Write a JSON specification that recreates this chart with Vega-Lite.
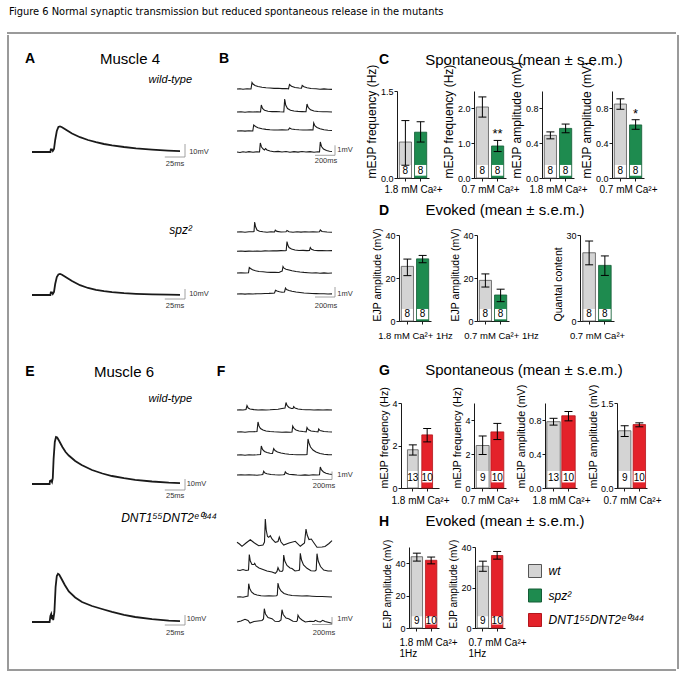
{
"$schema": "https://vega.github.io/schema/vega-lite/v6.json",
"background": "white",
"padding": {"left": 7, "top": 6, "right": 4, "bottom": 4},
"title": {"text": "Figure 6  Normal synaptic transmission but reduced spontaneous release in the mutants", "anchor": "start", "fontSize": 11, "fontWeight": "normal", "font": "Liberation Sans Narrow, DejaVu Sans Condensed, Liberation Sans", "offset": 15, "dx": 2, "color": "#000"},
"config": {
 "view": {"stroke": null},
 "font": "Liberation Sans",
 "concat": {"spacing": 0},
 "axis": {"grid": false, "domainColor": "#000", "domainWidth": 0.9, "tickColor": "#000", "tickWidth": 0.9, "tickSize": 3, "labelColor": "#000", "labelFontSize": 9, "labelPadding": 1, "titleColor": "#000", "titleFontSize": 11.5, "titleFontWeight": "normal", "titlePadding": 2},
 "axisX": {"titleFontSize": 10},
 "axisY": {"titleAnchor": "start", "titleAlign": "left"},
 "text": {"color": "#000"},
 "title": {"color": "#000", "fontWeight": "normal"}
},
"datasets": {
 "awt": [{"t":0,"v":0},{"t":23,"v":0},{"t":23.5,"v":2.5},{"t":25,"v":2.5},{"t":26,"v":1},{"t":27.5,"v":3},{"t":29,"v":12},{"t":31,"v":21},{"t":33,"v":25},{"t":35,"v":25.5},{"t":37,"v":25},{"t":40,"v":23.5},{"t":45,"v":21},{"t":50,"v":18.5},{"t":60,"v":14.8},{"t":70,"v":12},{"t":80,"v":9.8},{"t":90,"v":8},{"t":100,"v":6.6},{"t":115,"v":5},{"t":130,"v":3.7},{"t":150,"v":2.4},{"t":170,"v":1.4},{"t":185,"v":0.9}],
 "aspz": [{"t":0,"v":0},{"t":23,"v":0},{"t":23.5,"v":2.5},{"t":25,"v":2.5},{"t":26,"v":1},{"t":27.5,"v":3},{"t":29,"v":11},{"t":31,"v":18},{"t":33,"v":20.5},{"t":35,"v":21},{"t":37,"v":20.5},{"t":40,"v":19},{"t":45,"v":16.5},{"t":50,"v":14},{"t":60,"v":9.8},{"t":70,"v":7},{"t":80,"v":5.2},{"t":90,"v":3.9},{"t":100,"v":2.9},{"t":115,"v":1.9},{"t":130,"v":1.2},{"t":150,"v":0.6},{"t":170,"v":0.3},{"t":185,"v":0.2}],
 "ewt": [{"t":0,"v":0},{"t":22,"v":0},{"t":22.5,"v":3},{"t":24,"v":3.5},{"t":25,"v":2},{"t":26,"v":6},{"t":27,"v":25},{"t":28.5,"v":42},{"t":30,"v":47},{"t":31.5,"v":46.5},{"t":34,"v":43},{"t":38,"v":37},{"t":42,"v":32},{"t":46,"v":28.5},{"t":54,"v":23},{"t":62,"v":19},{"t":75,"v":14},{"t":88,"v":10.5},{"t":100,"v":8},{"t":115,"v":5.8},{"t":129,"v":4.2},{"t":150,"v":2.5},{"t":171,"v":1.3},{"t":185,"v":0.9}],
 "emut": [{"t":0,"v":0},{"t":22,"v":0},{"t":23,"v":6},{"t":24,"v":8},{"t":25,"v":3},{"t":25.5,"v":7},{"t":26.5,"v":2},{"t":28,"v":10},{"t":29.5,"v":35},{"t":31,"v":46},{"t":32.5,"v":48.3},{"t":34,"v":47.5},{"t":37,"v":43},{"t":41,"v":37},{"t":46,"v":30.5},{"t":54,"v":24.5},{"t":62.5,"v":20},{"t":75,"v":16},{"t":87.5,"v":13},{"t":100,"v":10.2},{"t":115,"v":7.2},{"t":129,"v":5},{"t":150,"v":2.8},{"t":171,"v":1.3},{"t":185,"v":0.8}],
 "bw1": [{"t":0,"v":0},{"t":30,"v":0.02},{"t":60,"v":-0.02},{"t":100,"v":0.03},{"t":140,"v":0},{"t":150,"v":0.65},{"t":160,"v":0.5},{"t":180,"v":0.35},{"t":210,"v":0.25},{"t":250,"v":0.18},{"t":290,"v":0.12},{"t":330,"v":0.1},{"t":370,"v":0.06},{"t":410,"v":0.08},{"t":450,"v":0.04},{"t":490,"v":0.05},{"t":515,"v":0.02},{"t":525,"v":0.45},{"t":545,"v":0.28},{"t":580,"v":0.15},{"t":620,"v":0.1},{"t":645,"v":0.08},{"t":652,"v":0.35},{"t":670,"v":0.22},{"t":700,"v":0.12},{"t":740,"v":0.05},{"t":790,"v":0.02},{"t":830,"v":-0.02},{"t":870,"v":0.01},{"t":910,"v":-0.03},{"t":950,"v":-0.04}],
 "bw2": [{"t":0,"v":0},{"t":40,"v":0.02},{"t":80,"v":-0.02},{"t":120,"v":0.03},{"t":160,"v":0},{"t":200,"v":0.02},{"t":235,"v":0},{"t":243,"v":0.7},{"t":255,"v":0.35},{"t":275,"v":0.18},{"t":310,"v":0.08},{"t":350,"v":0.04},{"t":390,"v":0.05},{"t":430,"v":0.02},{"t":468,"v":0},{"t":477,"v":1.3},{"t":487,"v":0.7},{"t":505,"v":0.35},{"t":535,"v":0.18},{"t":570,"v":0.1},{"t":610,"v":0.06},{"t":650,"v":0.04},{"t":690,"v":0.02},{"t":700,"v":0.8},{"t":712,"v":0.45},{"t":735,"v":0.22},{"t":770,"v":0.1},{"t":810,"v":0.05},{"t":860,"v":0.02},{"t":900,"v":0.03},{"t":950,"v":0}],
 "bw3": [{"t":0,"v":0},{"t":40,"v":0.03},{"t":80,"v":-0.01},{"t":120,"v":0.02},{"t":158,"v":0},{"t":167,"v":0.6},{"t":185,"v":0.45},{"t":210,"v":0.33},{"t":250,"v":0.22},{"t":290,"v":0.16},{"t":330,"v":0.12},{"t":370,"v":0.1},{"t":410,"v":0.1},{"t":450,"v":0.12},{"t":490,"v":0.1},{"t":515,"v":0.12},{"t":525,"v":0.3},{"t":545,"v":0.2},{"t":580,"v":0.15},{"t":620,"v":0.12},{"t":660,"v":0.1},{"t":700,"v":0.1},{"t":740,"v":0.12},{"t":760,"v":0.1},{"t":767,"v":0.8},{"t":780,"v":0.5},{"t":800,"v":0.35},{"t":830,"v":0.22},{"t":870,"v":0.12},{"t":910,"v":0.08},{"t":950,"v":0.05}],
 "bw4": [{"t":0,"v":0},{"t":30,"v":-0.05},{"t":60,"v":0.03},{"t":90,"v":-0.03},{"t":120,"v":0.04},{"t":160,"v":-0.02},{"t":200,"v":0.02},{"t":225,"v":0},{"t":233,"v":0.9},{"t":245,"v":0.5},{"t":262,"v":0.3},{"t":275,"v":0.2},{"t":285,"v":0.35},{"t":300,"v":0.2},{"t":330,"v":0.1},{"t":370,"v":0.02},{"t":410,"v":0.06},{"t":450,"v":0},{"t":490,"v":0.05},{"t":530,"v":-0.02},{"t":570,"v":0.04},{"t":610,"v":-0.01},{"t":650,"v":0.05},{"t":690,"v":0},{"t":730,"v":0.04},{"t":770,"v":-0.02},{"t":810,"v":0.02},{"t":825,"v":0},{"t":833,"v":1.0},{"t":845,"v":0.55},{"t":865,"v":0.3},{"t":895,"v":0.15},{"t":925,"v":0.08},{"t":950,"v":0.05}],
 "bs1": [{"t":0,"v":0},{"t":40,"v":0.02},{"t":80,"v":-0.02},{"t":120,"v":0.03},{"t":160,"v":0.02},{"t":170,"v":0.05},{"t":177,"v":1.0},{"t":185,"v":0.55},{"t":200,"v":0.2},{"t":225,"v":0.08},{"t":260,"v":0.02},{"t":300,"v":-0.02},{"t":340,"v":0.02},{"t":375,"v":0},{"t":383,"v":0.18},{"t":400,"v":0.06},{"t":440,"v":0},{"t":490,"v":0.02},{"t":500,"v":0.15},{"t":520,"v":0.03},{"t":560,"v":-0.02},{"t":600,"v":0.02},{"t":640,"v":-0.01},{"t":680,"v":0.03},{"t":720,"v":0},{"t":760,"v":0.02},{"t":800,"v":0},{"t":825,"v":0.03},{"t":833,"v":0.2},{"t":850,"v":0.05},{"t":900,"v":0},{"t":950,"v":-0.02}],
 "bs2": [{"t":0,"v":-0.03},{"t":40,"v":0},{"t":80,"v":-0.04},{"t":120,"v":-0.01},{"t":160,"v":-0.03},{"t":200,"v":0},{"t":240,"v":-0.02},{"t":280,"v":0.01},{"t":320,"v":0},{"t":360,"v":0.03},{"t":400,"v":0.01},{"t":440,"v":0.04},{"t":480,"v":0.03},{"t":492,"v":0.05},{"t":500,"v":0.95},{"t":508,"v":0.6},{"t":520,"v":0.35},{"t":545,"v":0.2},{"t":580,"v":0.1},{"t":620,"v":0.05},{"t":660,"v":0.06},{"t":700,"v":0.04},{"t":725,"v":0.05},{"t":733,"v":0.35},{"t":745,"v":0.18},{"t":770,"v":0.08},{"t":810,"v":0.04},{"t":850,"v":0.05},{"t":900,"v":0.03},{"t":950,"v":0.04}],
 "bs3": [{"t":0,"v":0},{"t":40,"v":0.02},{"t":80,"v":0},{"t":115,"v":0.03},{"t":123,"v":0.55},{"t":135,"v":0.45},{"t":155,"v":0.32},{"t":185,"v":0.22},{"t":220,"v":0.15},{"t":260,"v":0.12},{"t":300,"v":0.08},{"t":340,"v":0.06},{"t":380,"v":0.08},{"t":420,"v":0.05},{"t":440,"v":0.15},{"t":452,"v":0.2},{"t":460,"v":0.65},{"t":470,"v":0.48},{"t":490,"v":0.38},{"t":520,"v":0.3},{"t":550,"v":0.22},{"t":590,"v":0.15},{"t":630,"v":0.1},{"t":670,"v":0.06},{"t":710,"v":0.03},{"t":750,"v":0},{"t":790,"v":0.02},{"t":830,"v":-0.02},{"t":870,"v":0.01},{"t":910,"v":-0.03},{"t":950,"v":0}],
 "bs4": [{"t":0,"v":0},{"t":40,"v":0.02},{"t":80,"v":-0.01},{"t":120,"v":0.02},{"t":160,"v":0},{"t":200,"v":0.03},{"t":240,"v":0.02},{"t":280,"v":0.05},{"t":320,"v":0.06},{"t":360,"v":0.08},{"t":375,"v":0.1},{"t":385,"v":0.38},{"t":400,"v":0.3},{"t":425,"v":0.22},{"t":450,"v":0.18},{"t":475,"v":0.2},{"t":485,"v":0.6},{"t":495,"v":0.45},{"t":520,"v":0.35},{"t":550,"v":0.27},{"t":590,"v":0.2},{"t":630,"v":0.15},{"t":670,"v":0.1},{"t":710,"v":0.08},{"t":750,"v":0.05},{"t":790,"v":0.04},{"t":830,"v":0.02},{"t":870,"v":0.02},{"t":910,"v":0},{"t":950,"v":0.01}],
 "fw1": [{"t":0,"v":0},{"t":30,"v":0.02},{"t":60,"v":0},{"t":90,"v":0.05},{"t":100,"v":0.45},{"t":112,"v":0.2},{"t":130,"v":0.1},{"t":170,"v":0.04},{"t":210,"v":0},{"t":250,"v":0.03},{"t":290,"v":0},{"t":330,"v":0.02},{"t":370,"v":0.05},{"t":410,"v":0.08},{"t":450,"v":0.15},{"t":480,"v":0.2},{"t":490,"v":0.75},{"t":500,"v":0.45},{"t":520,"v":0.25},{"t":545,"v":0.15},{"t":560,"v":0.15},{"t":567,"v":0.35},{"t":580,"v":0.2},{"t":610,"v":0.1},{"t":650,"v":0.05},{"t":690,"v":0.02},{"t":730,"v":0.03},{"t":770,"v":0},{"t":810,"v":0.02},{"t":860,"v":0},{"t":900,"v":0.02},{"t":950,"v":0}],
 "fw2": [{"t":0,"v":0},{"t":40,"v":0.02},{"t":80,"v":-0.02},{"t":120,"v":0.03},{"t":160,"v":0.02},{"t":200,"v":0.05},{"t":210,"v":1.0},{"t":220,"v":0.6},{"t":235,"v":0.35},{"t":260,"v":0.2},{"t":290,"v":0.1},{"t":330,"v":0.05},{"t":370,"v":0.02},{"t":410,"v":0},{"t":450,"v":-0.02},{"t":490,"v":0},{"t":530,"v":-0.03},{"t":550,"v":0},{"t":557,"v":0.6},{"t":570,"v":0.35},{"t":590,"v":0.2},{"t":620,"v":0.1},{"t":660,"v":0.05},{"t":692,"v":0.02},{"t":700,"v":0.45},{"t":712,"v":0.25},{"t":740,"v":0.1},{"t":780,"v":0.05},{"t":810,"v":0.02},{"t":817,"v":0.3},{"t":830,"v":0.15},{"t":870,"v":0.05},{"t":910,"v":0.02},{"t":950,"v":0}],
 "fw3": [{"t":0,"v":0},{"t":40,"v":0.02},{"t":80,"v":-0.02},{"t":120,"v":0.02},{"t":160,"v":0},{"t":200,"v":0.02},{"t":235,"v":0.05},{"t":243,"v":0.9},{"t":255,"v":0.55},{"t":275,"v":0.35},{"t":300,"v":0.25},{"t":330,"v":0.18},{"t":355,"v":0.15},{"t":367,"v":0.65},{"t":380,"v":0.45},{"t":405,"v":0.3},{"t":440,"v":0.2},{"t":480,"v":0.12},{"t":520,"v":0.08},{"t":560,"v":0.05},{"t":600,"v":0.03},{"t":640,"v":0.02},{"t":680,"v":0.02},{"t":700,"v":0.05},{"t":710,"v":1.6},{"t":720,"v":1.2},{"t":735,"v":0.8},{"t":760,"v":0.5},{"t":790,"v":0.3},{"t":830,"v":0.15},{"t":870,"v":0.08},{"t":910,"v":0.04},{"t":950,"v":0.02}],
 "fw4": [{"t":0,"v":0},{"t":40,"v":0.02},{"t":80,"v":0},{"t":120,"v":0.03},{"t":160,"v":0},{"t":200,"v":-0.02},{"t":240,"v":0.02},{"t":258,"v":0.05},{"t":267,"v":0.38},{"t":280,"v":0.2},{"t":300,"v":0.12},{"t":340,"v":0.05},{"t":380,"v":0.02},{"t":420,"v":0},{"t":460,"v":0.02},{"t":475,"v":0.05},{"t":483,"v":0.32},{"t":495,"v":0.18},{"t":520,"v":0.08},{"t":560,"v":0.04},{"t":600,"v":0},{"t":640,"v":-0.02},{"t":680,"v":0.01},{"t":720,"v":-0.02},{"t":760,"v":0.02},{"t":800,"v":0},{"t":825,"v":0.02},{"t":833,"v":0.8},{"t":845,"v":0.5},{"t":865,"v":0.3},{"t":890,"v":0.18},{"t":920,"v":0.1},{"t":950,"v":0.05}],
 "fm1": [{"t":0,"v":0.17},{"t":25,"v":0},{"t":50,"v":-0.23},{"t":90,"v":0.1},{"t":133,"v":0.43},{"t":175,"v":0.1},{"t":217,"v":-0.17},{"t":260,"v":-0.1},{"t":275,"v":0.2},{"t":283,"v":2.5},{"t":292,"v":1.4},{"t":305,"v":0.75},{"t":317,"v":0.67},{"t":333,"v":0.83},{"t":350,"v":0.5},{"t":383,"v":0.17},{"t":410,"v":0.25},{"t":423,"v":0.7},{"t":440,"v":0.2},{"t":467,"v":-0.1},{"t":520,"v":0.1},{"t":583,"v":0.27},{"t":633,"v":-0.23},{"t":675,"v":0.1},{"t":690,"v":1.5},{"t":702,"v":0.9},{"t":720,"v":0.45},{"t":743,"v":0.5},{"t":770,"v":0.1},{"t":800,"v":-0.33},{"t":850,"v":-0.3},{"t":880,"v":-0.25},{"t":920,"v":0.05},{"t":950,"v":0.33}],
 "fm2": [{"t":0,"v":0},{"t":30,"v":-0.05},{"t":60,"v":0.05},{"t":90,"v":-0.05},{"t":115,"v":0},{"t":123,"v":1.55},{"t":133,"v":0.9},{"t":150,"v":0.55},{"t":170,"v":0.55},{"t":177,"v":0.67},{"t":190,"v":0.4},{"t":220,"v":0.2},{"t":260,"v":0.05},{"t":300,"v":-0.1},{"t":350,"v":-0.2},{"t":383,"v":-0.33},{"t":400,"v":-0.15},{"t":410,"v":0.23},{"t":425,"v":-0.1},{"t":450,"v":-0.15},{"t":460,"v":0},{"t":467,"v":1.5},{"t":478,"v":0.9},{"t":500,"v":0.45},{"t":530,"v":0.2},{"t":550,"v":0.15},{"t":580,"v":-0.1},{"t":610,"v":-0.05},{"t":625,"v":0},{"t":633,"v":1.67},{"t":645,"v":1.0},{"t":665,"v":0.5},{"t":700,"v":0.17},{"t":740,"v":-0.07},{"t":780,"v":-0.1},{"t":792,"v":0},{"t":800,"v":1.63},{"t":812,"v":0.9},{"t":835,"v":0.35},{"t":867,"v":0},{"t":910,"v":-0.1},{"t":950,"v":-0.1}],
 "fm3": [{"t":0,"v":0},{"t":30,"v":0.03},{"t":60,"v":-0.02},{"t":90,"v":0.05},{"t":110,"v":0.1},{"t":117,"v":1.33},{"t":127,"v":0.85},{"t":145,"v":0.5},{"t":170,"v":0.3},{"t":200,"v":0.2},{"t":240,"v":0.12},{"t":280,"v":0.1},{"t":320,"v":0.12},{"t":360,"v":0.1},{"t":395,"v":0.12},{"t":403,"v":0.2},{"t":410,"v":1.4},{"t":420,"v":0.95},{"t":440,"v":0.6},{"t":470,"v":0.35},{"t":510,"v":0.22},{"t":550,"v":0.15},{"t":600,"v":0.12},{"t":650,"v":0.1},{"t":700,"v":0.12},{"t":750,"v":0.08},{"t":800,"v":0.05},{"t":850,"v":0.05},{"t":900,"v":0.02},{"t":950,"v":0}],
 "fm4": [{"t":0,"v":0},{"t":40,"v":0.1},{"t":80,"v":0.27},{"t":110,"v":0.15},{"t":130,"v":-0.1},{"t":170,"v":0.05},{"t":210,"v":0.1},{"t":250,"v":0.15},{"t":265,"v":0.3},{"t":273,"v":1.33},{"t":285,"v":0.8},{"t":310,"v":0.45},{"t":350,"v":0.33},{"t":380,"v":0.07},{"t":420,"v":0.05},{"t":440,"v":0.2},{"t":450,"v":1.23},{"t":462,"v":0.75},{"t":490,"v":0.4},{"t":517,"v":0.33},{"t":560,"v":0.07},{"t":595,"v":0.05},{"t":603,"v":0.15},{"t":610,"v":0.67},{"t":625,"v":0.4},{"t":650,"v":0.2},{"t":683,"v":0},{"t":730,"v":0.07},{"t":770,"v":0.05},{"t":783,"v":0.17},{"t":810,"v":0.05},{"t":833,"v":0},{"t":857,"v":0.17},{"t":880,"v":0.05},{"t":920,"v":-0.05},{"t":950,"v":-0.13}]
},
"spacing": 0,
"vconcat": [
 {"width": 667, "height": 0.01, "view": {"stroke": "#9a9a9a", "strokeWidth": 2}, "data": {"values": [{}]}, "mark": {"type": "point", "opacity": 0, "size": 0}, "encoding": {}},
 {"spacing": 0, "hconcat": [
  {"width": 0.01, "height": 632, "view": {"stroke": "#9a9a9a", "strokeWidth": 2}, "data": {"values": [{}]}, "mark": {"type": "point", "opacity": 0, "size": 0}, "encoding": {}},
  {"spacing": 0, "vconcat": [
   {"width": 352, "height": 14, "data": {"values": [{}]}, "mark": {"type": "point", "opacity": 0, "size": 0}, "encoding": {}},
   {"bounds": "flush", "spacing": 0, "hconcat": [
    {"width": 12, "height": 18, "data": {"values": [{}]}, "mark": {"type": "point", "opacity": 0, "size": 0}, "encoding": {}},
    {"width": 16, "height": 18, "data": {"values": [{"s": "A"}]}, "mark": {"type": "text", "fontSize": 14, "fontWeight": "bold", "baseline": "middle"}, "encoding": {"text": {"field": "s"}}},
    {"width": 56, "height": 18, "data": {"values": [{}]}, "mark": {"type": "point", "opacity": 0, "size": 0}, "encoding": {}},
    {"width": 72, "height": 18, "data": {"values": [{"s": "Muscle 4"}]}, "mark": {"type": "text", "fontSize": 15, "baseline": "middle"}, "encoding": {"text": {"field": "s"}}},
    {"width": 51, "height": 18, "data": {"values": [{}]}, "mark": {"type": "point", "opacity": 0, "size": 0}, "encoding": {}},
    {"width": 14, "height": 18, "data": {"values": [{"s": "B"}]}, "mark": {"type": "text", "fontSize": 14, "fontWeight": "bold", "baseline": "middle"}, "encoding": {"text": {"field": "s"}}}
   ]},
   {"spacing": 0, "hconcat": [
    {"width": 14, "height": 1, "data": {"values": [{}]}, "mark": {"type": "point", "opacity": 0, "size": 0}, "encoding": {}},
    {"bounds": "flush", "spacing": 0, "vconcat": [
     {"width": 1, "height": 20, "data": {"values": [{}]}, "mark": {"type": "point", "opacity": 0, "size": 0}, "encoding": {}},
     {"width": 196, "height": 80,
      "title": {"text": "wild-type", "anchor": "end", "frame": "group", "dx": -28, "offset": 3, "fontSize": 11, "fontStyle": "italic", "fontWeight": "normal"},
      "encoding": {"x": {"field": "t", "type": "quantitative", "scale": {"domain": [-10, 235], "nice": false, "zero": false}, "axis": null}, "y": {"field": "v", "type": "quantitative", "scale": {"domain": [-16, 64], "nice": false, "zero": false}, "axis": null}},
      "layer": [
       {"data": {"name": "awt"}, "mark": {"type": "line", "color": "#1a1a1a", "strokeWidth": 1.8}},
       {"data": {"values": [{"t": 191.25, "t2": 191.25, "v": -5, "v2": 8}, {"t": 166, "t2": 191.25, "v": -5, "v2": -5}]}, "mark": {"type": "rule", "color": "#8a8a8a", "strokeWidth": 0.8}, "encoding": {"x2": {"field": "t2"}, "y2": {"field": "v2"}}},
       {"data": {"values": [{"t": 208.75, "v": 0, "s": "10mV"}, {"t": 178.75, "v": -12, "s": "25ms"}]}, "mark": {"type": "text", "fontSize": 7.5, "color": "#333"}, "encoding": {"text": {"field": "s"}}}
      ]},
     {"width": 1, "height": 72, "data": {"values": [{}]}, "mark": {"type": "point", "opacity": 0, "size": 0}, "encoding": {}},
     {"width": 196, "height": 72,
      "title": {"text": "spz²", "anchor": "end", "frame": "group", "dx": -28, "offset": 3, "fontSize": 12, "fontStyle": "italic", "fontWeight": "normal"},
      "encoding": {"x": {"field": "t", "type": "quantitative", "scale": {"domain": [-10, 235], "nice": false, "zero": false}, "axis": null}, "y": {"field": "v", "type": "quantitative", "scale": {"domain": [-17, 55], "nice": false, "zero": false}, "axis": null}},
      "layer": [
       {"data": {"name": "aspz"}, "mark": {"type": "line", "color": "#1a1a1a", "strokeWidth": 1.8}},
       {"data": {"values": [{"t": 191.25, "t2": 191.25, "v": -4, "v2": 6}, {"t": 166, "t2": 191.25, "v": -4, "v2": -4}]}, "mark": {"type": "rule", "color": "#8a8a8a", "strokeWidth": 0.8}, "encoding": {"x2": {"field": "t2"}, "y2": {"field": "v2"}}},
       {"data": {"values": [{"t": 208.75, "v": 1, "s": "10mV"}, {"t": 178.75, "v": -11, "s": "25ms"}]}, "mark": {"type": "text", "fontSize": 7.5, "color": "#333"}, "encoding": {"text": {"field": "s"}}}
      ]}
    ]},
    {"width": 10, "height": 1, "data": {"values": [{}]}, "mark": {"type": "point", "opacity": 0, "size": 0}, "encoding": {}},
    {"bounds": "flush", "spacing": 0, "vconcat": [
     {"width": 1, "height": 16, "data": {"values": [{}]}, "mark": {"type": "point", "opacity": 0, "size": 0}, "encoding": {}},
     {"width": 132, "height": 10, "data": {"name": "bw1"}, "mark": {"type": "line", "color": "#1a1a1a", "strokeWidth": 1.1}, "encoding": {"x": {"field": "t", "type": "quantitative", "scale": {"domain": [-70, 1250], "nice": false, "zero": false}, "axis": null}, "y": {"field": "v", "type": "quantitative", "scale": {"domain": [-0.5, 0.5], "nice": false, "zero": false}, "axis": null}}},
     {"width": 1, "height": 13, "data": {"values": [{}]}, "mark": {"type": "point", "opacity": 0, "size": 0}, "encoding": {}},
     {"width": 132, "height": 10, "data": {"name": "bw2"}, "mark": {"type": "line", "color": "#1a1a1a", "strokeWidth": 1.1}, "encoding": {"x": {"field": "t", "type": "quantitative", "scale": {"domain": [-70, 1250], "nice": false, "zero": false}, "axis": null}, "y": {"field": "v", "type": "quantitative", "scale": {"domain": [-0.5, 0.5], "nice": false, "zero": false}, "axis": null}}},
     {"width": 1, "height": 9, "data": {"values": [{}]}, "mark": {"type": "point", "opacity": 0, "size": 0}, "encoding": {}},
     {"width": 132, "height": 10, "data": {"name": "bw3"}, "mark": {"type": "line", "color": "#1a1a1a", "strokeWidth": 1.1}, "encoding": {"x": {"field": "t", "type": "quantitative", "scale": {"domain": [-70, 1250], "nice": false, "zero": false}, "axis": null}, "y": {"field": "v", "type": "quantitative", "scale": {"domain": [-0.5, 0.5], "nice": false, "zero": false}, "axis": null}}},
     {"width": 1, "height": 11, "data": {"values": [{}]}, "mark": {"type": "point", "opacity": 0, "size": 0}, "encoding": {}},
     {"width": 132, "height": 10,
      "encoding": {"x": {"field": "t", "type": "quantitative", "scale": {"domain": [-70, 1250], "nice": false, "zero": false}, "axis": null}, "y": {"field": "v", "type": "quantitative", "scale": {"domain": [-0.5, 0.5], "nice": false, "zero": false}, "axis": null}},
      "layer": [
       {"data": {"name": "bw4"}, "mark": {"type": "line", "color": "#1a1a1a", "strokeWidth": 1.1}},
       {"data": {"values": [{"t": 980, "t2": 980, "v": 0.67, "v2": -0.33}, {"t": 780, "t2": 980, "v": -0.33, "v2": -0.33}]}, "mark": {"type": "rule", "color": "#8a8a8a", "strokeWidth": 0.8}, "encoding": {"x2": {"field": "t2"}, "y2": {"field": "v2"}}},
       {"data": {"values": [{"t": 1080, "v": 0.2, "s": "1mV"}, {"t": 890, "v": -0.85, "s": "200ms"}]}, "mark": {"type": "text", "fontSize": 7.5, "color": "#333"}, "encoding": {"text": {"field": "s"}}}
      ]},
     {"width": 1, "height": 70, "data": {"values": [{}]}, "mark": {"type": "point", "opacity": 0, "size": 0}, "encoding": {}},
     {"width": 132, "height": 10, "data": {"name": "bs1"}, "mark": {"type": "line", "color": "#1a1a1a", "strokeWidth": 1.1}, "encoding": {"x": {"field": "t", "type": "quantitative", "scale": {"domain": [-70, 1250], "nice": false, "zero": false}, "axis": null}, "y": {"field": "v", "type": "quantitative", "scale": {"domain": [-0.5, 0.5], "nice": false, "zero": false}, "axis": null}}},
     {"width": 1, "height": 9, "data": {"values": [{}]}, "mark": {"type": "point", "opacity": 0, "size": 0}, "encoding": {}},
     {"width": 132, "height": 10, "data": {"name": "bs2"}, "mark": {"type": "line", "color": "#1a1a1a", "strokeWidth": 1.1}, "encoding": {"x": {"field": "t", "type": "quantitative", "scale": {"domain": [-70, 1250], "nice": false, "zero": false}, "axis": null}, "y": {"field": "v", "type": "quantitative", "scale": {"domain": [-0.5, 0.5], "nice": false, "zero": false}, "axis": null}}},
     {"width": 1, "height": 12, "data": {"values": [{}]}, "mark": {"type": "point", "opacity": 0, "size": 0}, "encoding": {}},
     {"width": 132, "height": 10, "data": {"name": "bs3"}, "mark": {"type": "line", "color": "#1a1a1a", "strokeWidth": 1.1}, "encoding": {"x": {"field": "t", "type": "quantitative", "scale": {"domain": [-70, 1250], "nice": false, "zero": false}, "axis": null}, "y": {"field": "v", "type": "quantitative", "scale": {"domain": [-0.5, 0.5], "nice": false, "zero": false}, "axis": null}}},
     {"width": 1, "height": 11, "data": {"values": [{}]}, "mark": {"type": "point", "opacity": 0, "size": 0}, "encoding": {}},
     {"width": 132, "height": 10,
      "encoding": {"x": {"field": "t", "type": "quantitative", "scale": {"domain": [-70, 1250], "nice": false, "zero": false}, "axis": null}, "y": {"field": "v", "type": "quantitative", "scale": {"domain": [-0.5, 0.5], "nice": false, "zero": false}, "axis": null}},
      "layer": [
       {"data": {"name": "bs4"}, "mark": {"type": "line", "color": "#1a1a1a", "strokeWidth": 1.1}},
       {"data": {"values": [{"t": 980, "t2": 980, "v": 0.7, "v2": -0.3}, {"t": 780, "t2": 980, "v": -0.3, "v2": -0.3}]}, "mark": {"type": "rule", "color": "#8a8a8a", "strokeWidth": 0.8}, "encoding": {"x2": {"field": "t2"}, "y2": {"field": "v2"}}},
       {"data": {"values": [{"t": 1080, "v": 0, "s": "1mV"}, {"t": 890, "v": -1.2, "s": "200ms"}]}, "mark": {"type": "text", "fontSize": 7.5, "color": "#333"}, "encoding": {"text": {"field": "s"}}}
      ]}
    ]}
   ]},
   {"width": 1, "height": 51, "data": {"values": [{}]}, "mark": {"type": "point", "opacity": 0, "size": 0}, "encoding": {}},
   {"bounds": "flush", "spacing": 0, "hconcat": [
    {"width": 12, "height": 18, "data": {"values": [{}]}, "mark": {"type": "point", "opacity": 0, "size": 0}, "encoding": {}},
    {"width": 16, "height": 18, "data": {"values": [{"s": "E"}]}, "mark": {"type": "text", "fontSize": 14, "fontWeight": "bold", "baseline": "middle"}, "encoding": {"text": {"field": "s"}}},
    {"width": 50, "height": 18, "data": {"values": [{}]}, "mark": {"type": "point", "opacity": 0, "size": 0}, "encoding": {}},
    {"width": 72, "height": 18, "data": {"values": [{"s": "Muscle 6"}]}, "mark": {"type": "text", "fontSize": 15, "baseline": "middle"}, "encoding": {"text": {"field": "s"}}},
    {"width": 54, "height": 18, "data": {"values": [{}]}, "mark": {"type": "point", "opacity": 0, "size": 0}, "encoding": {}},
    {"width": 14, "height": 18, "data": {"values": [{"s": "F"}]}, "mark": {"type": "text", "fontSize": 14, "fontWeight": "bold", "baseline": "middle"}, "encoding": {"text": {"field": "s"}}}
   ]},
   {"spacing": 0, "hconcat": [
    {"width": 14, "height": 1, "data": {"values": [{}]}, "mark": {"type": "point", "opacity": 0, "size": 0}, "encoding": {}},
    {"bounds": "flush", "spacing": 0, "vconcat": [
     {"width": 1, "height": 25, "data": {"values": [{}]}, "mark": {"type": "point", "opacity": 0, "size": 0}, "encoding": {}},
     {"width": 196, "height": 96,
      "title": {"text": "wild-type", "anchor": "end", "frame": "group", "dx": -28, "offset": 2, "fontSize": 11, "fontStyle": "italic", "fontWeight": "normal"},
      "encoding": {"x": {"field": "t", "type": "quantitative", "scale": {"domain": [-10, 235], "nice": false, "zero": false}, "axis": null}, "y": {"field": "v", "type": "quantitative", "scale": {"domain": [-18, 78], "nice": false, "zero": false}, "axis": null}},
      "layer": [
       {"data": {"name": "ewt"}, "mark": {"type": "line", "color": "#1a1a1a", "strokeWidth": 1.8}},
       {"data": {"values": [{"t": 191.25, "t2": 191.25, "v": -6, "v2": 5}, {"t": 166, "t2": 191.25, "v": -6, "v2": -6}]}, "mark": {"type": "rule", "color": "#8a8a8a", "strokeWidth": 0.8}, "encoding": {"x2": {"field": "t2"}, "y2": {"field": "v2"}}},
       {"data": {"values": [{"t": 205.6, "v": 0, "s": "10mV"}, {"t": 179, "v": -12, "s": "25ms"}]}, "mark": {"type": "text", "fontSize": 7.5, "color": "#333"}, "encoding": {"text": {"field": "s"}}}
      ]},
     {"width": 1, "height": 25, "data": {"values": [{}]}, "mark": {"type": "point", "opacity": 0, "size": 0}, "encoding": {}},
     {"width": 196, "height": 115,
      "title": {"text": "DNT1⁵⁵DNT2ᵉ⁰³⁴⁴", "anchor": "end", "frame": "group", "dx": -3, "offset": 2, "fontSize": 12, "fontStyle": "italic", "fontWeight": "normal"},
      "encoding": {"x": {"field": "t", "type": "quantitative", "scale": {"domain": [-10, 235], "nice": false, "zero": false}, "axis": null}, "y": {"field": "v", "type": "quantitative", "scale": {"domain": [-20, 95], "nice": false, "zero": false}, "axis": null}},
      "layer": [
       {"data": {"name": "emut"}, "mark": {"type": "line", "color": "#1a1a1a", "strokeWidth": 1.8}},
       {"data": {"values": [{"t": 191.25, "t2": 191.25, "v": -3, "v2": 7}, {"t": 166, "t2": 191.25, "v": -3, "v2": -3}]}, "mark": {"type": "rule", "color": "#8a8a8a", "strokeWidth": 0.8}, "encoding": {"x2": {"field": "t2"}, "y2": {"field": "v2"}}},
       {"data": {"values": [{"t": 205.6, "v": 3, "s": "10mV"}, {"t": 179, "v": -11, "s": "25ms"}]}, "mark": {"type": "text", "fontSize": 7.5, "color": "#333"}, "encoding": {"text": {"field": "s"}}}
      ]}
    ]},
    {"width": 10, "height": 1, "data": {"values": [{}]}, "mark": {"type": "point", "opacity": 0, "size": 0}, "encoding": {}},
    {"bounds": "flush", "spacing": 0, "vconcat": [
     {"width": 1, "height": 24, "data": {"values": [{}]}, "mark": {"type": "point", "opacity": 0, "size": 0}, "encoding": {}},
     {"width": 132, "height": 10, "data": {"name": "fw1"}, "mark": {"type": "line", "color": "#1a1a1a", "strokeWidth": 1.1}, "encoding": {"x": {"field": "t", "type": "quantitative", "scale": {"domain": [-70, 1250], "nice": false, "zero": false}, "axis": null}, "y": {"field": "v", "type": "quantitative", "scale": {"domain": [-0.5, 0.5], "nice": false, "zero": false}, "axis": null}}},
     {"width": 1, "height": 12, "data": {"values": [{}]}, "mark": {"type": "point", "opacity": 0, "size": 0}, "encoding": {}},
     {"width": 132, "height": 10, "data": {"name": "fw2"}, "mark": {"type": "line", "color": "#1a1a1a", "strokeWidth": 1.1}, "encoding": {"x": {"field": "t", "type": "quantitative", "scale": {"domain": [-70, 1250], "nice": false, "zero": false}, "axis": null}, "y": {"field": "v", "type": "quantitative", "scale": {"domain": [-0.5, 0.5], "nice": false, "zero": false}, "axis": null}}},
     {"width": 1, "height": 13, "data": {"values": [{}]}, "mark": {"type": "point", "opacity": 0, "size": 0}, "encoding": {}},
     {"width": 132, "height": 10, "data": {"name": "fw3"}, "mark": {"type": "line", "color": "#1a1a1a", "strokeWidth": 1.1}, "encoding": {"x": {"field": "t", "type": "quantitative", "scale": {"domain": [-70, 1250], "nice": false, "zero": false}, "axis": null}, "y": {"field": "v", "type": "quantitative", "scale": {"domain": [-0.5, 0.5], "nice": false, "zero": false}, "axis": null}}},
     {"width": 1, "height": 10, "data": {"values": [{}]}, "mark": {"type": "point", "opacity": 0, "size": 0}, "encoding": {}},
     {"width": 132, "height": 10,
      "encoding": {"x": {"field": "t", "type": "quantitative", "scale": {"domain": [-70, 1250], "nice": false, "zero": false}, "axis": null}, "y": {"field": "v", "type": "quantitative", "scale": {"domain": [-0.5, 0.5], "nice": false, "zero": false}, "axis": null}},
      "layer": [
       {"data": {"name": "fw4"}, "mark": {"type": "line", "color": "#1a1a1a", "strokeWidth": 1.1}},
       {"data": {"values": [{"t": 950, "t2": 950, "v": 0.35, "v2": -0.45}, {"t": 750, "t2": 950, "v": -0.45, "v2": -0.45}]}, "mark": {"type": "rule", "color": "#8a8a8a", "strokeWidth": 0.8}, "encoding": {"x2": {"field": "t2"}, "y2": {"field": "v2"}}},
       {"data": {"values": [{"t": 1080, "v": 0, "s": "1mV"}, {"t": 870, "v": -1.1, "s": "200ms"}]}, "mark": {"type": "text", "fontSize": 7.5, "color": "#333"}, "encoding": {"text": {"field": "s"}}}
      ]},
     {"width": 1, "height": 59, "data": {"values": [{}]}, "mark": {"type": "point", "opacity": 0, "size": 0}, "encoding": {}},
     {"width": 132, "height": 10, "data": {"name": "fm1"}, "mark": {"type": "line", "color": "#1a1a1a", "strokeWidth": 1.1}, "encoding": {"x": {"field": "t", "type": "quantitative", "scale": {"domain": [-70, 1250], "nice": false, "zero": false}, "axis": null}, "y": {"field": "v", "type": "quantitative", "scale": {"domain": [-0.5, 0.5], "nice": false, "zero": false}, "axis": null}}},
     {"width": 1, "height": 16, "data": {"values": [{}]}, "mark": {"type": "point", "opacity": 0, "size": 0}, "encoding": {}},
     {"width": 132, "height": 10, "data": {"name": "fm2"}, "mark": {"type": "line", "color": "#1a1a1a", "strokeWidth": 1.1}, "encoding": {"x": {"field": "t", "type": "quantitative", "scale": {"domain": [-70, 1250], "nice": false, "zero": false}, "axis": null}, "y": {"field": "v", "type": "quantitative", "scale": {"domain": [-0.5, 0.5], "nice": false, "zero": false}, "axis": null}}},
     {"width": 1, "height": 17, "data": {"values": [{}]}, "mark": {"type": "point", "opacity": 0, "size": 0}, "encoding": {}},
     {"width": 132, "height": 10, "data": {"name": "fm3"}, "mark": {"type": "line", "color": "#1a1a1a", "strokeWidth": 1.1}, "encoding": {"x": {"field": "t", "type": "quantitative", "scale": {"domain": [-70, 1250], "nice": false, "zero": false}, "axis": null}, "y": {"field": "v", "type": "quantitative", "scale": {"domain": [-0.5, 0.5], "nice": false, "zero": false}, "axis": null}}},
     {"width": 1, "height": 15, "data": {"values": [{}]}, "mark": {"type": "point", "opacity": 0, "size": 0}, "encoding": {}},
     {"width": 132, "height": 10,
      "encoding": {"x": {"field": "t", "type": "quantitative", "scale": {"domain": [-70, 1250], "nice": false, "zero": false}, "axis": null}, "y": {"field": "v", "type": "quantitative", "scale": {"domain": [-0.5, 0.5], "nice": false, "zero": false}, "axis": null}},
      "layer": [
       {"data": {"name": "fm4"}, "mark": {"type": "line", "color": "#1a1a1a", "strokeWidth": 1.1}},
       {"data": {"values": [{"t": 950, "t2": 950, "v": 0.5, "v2": -0.25}, {"t": 750, "t2": 950, "v": -0.25, "v2": -0.25}]}, "mark": {"type": "rule", "color": "#8a8a8a", "strokeWidth": 0.8}, "encoding": {"x2": {"field": "t2"}, "y2": {"field": "v2"}}},
       {"data": {"values": [{"t": 1080, "v": 0.3, "s": "1mV"}, {"t": 870, "v": -1.05, "s": "200ms"}]}, "mark": {"type": "text", "fontSize": 7.5, "color": "#333"}, "encoding": {"text": {"field": "s"}}}
      ]}
    ]}
   ]}
  ]},
  {"spacing": 0, "vconcat": [
   {"width": 315, "height": 15.5, "data": {"values": [{}]}, "mark": {"type": "point", "opacity": 0, "size": 0}, "encoding": {}},
   {"bounds": "flush", "spacing": 0, "hconcat": [
    {"width": 35, "height": 1, "data": {"values": [{}]}, "mark": {"type": "point", "opacity": 0, "size": 0}, "encoding": {}},
    {"width": 32, "height": 87,
     "title": {"text": "C", "anchor": "start", "frame": "group", "dx": -18, "offset": -10.5, "baseline": "middle", "fontSize": 14, "fontWeight": "bold"},
     "data": {"values": [{"g": "wt", "m": 0.62, "lo": 0.22, "hi": 0.99, "n": "8"}, {"g": "spz", "m": 0.79, "lo": 0.62, "hi": 0.97, "n": "8"}]},
     "encoding": {"x": {"field": "g", "type": "nominal", "sort": null, "scale": {"paddingInner": 0.2, "paddingOuter": 0.15}, "axis": {"title": "1.8 mM Ca²+", "labels": false, "titlePadding": 3}}},
     "layer": [
      {"mark": {"type": "bar", "strokeWidth": 0.8}, "encoding": {"y": {"field": "m", "type": "quantitative", "scale": {"domain": [0, 1.5], "nice": false}, "axis": {"title": "mEJP frequency (Hz)", "titleFontSize": 12, "values": [0, 0.5, 1, 1.5], "format": ".1f"}}, "color": {"field": "g", "type": "nominal", "scale": {"domain": ["wt", "spz", "dnt"], "range": ["#d4d4d4", "#1e8b4f", "#e4222a"]}, "legend": null}}},
      {"transform": [{"filter": "datum.g=='wt'"}], "mark": {"type": "bar", "color": "#fff"}, "encoding": {"y": {"datum": 0}, "y2": {"datum": 0.225}}},
      {"transform": [{"filter": "datum.g!='wt'"}], "mark": {"type": "bar", "color": "#fff"}, "encoding": {"y": {"datum": 0.04}, "y2": {"datum": 0.225}}},
      {"mark": {"type": "bar", "fillOpacity": 0, "strokeWidth": 0.8}, "encoding": {"y": {"field": "m", "type": "quantitative"}, "stroke": {"field": "g", "type": "nominal", "scale": {"domain": ["wt", "spz", "dnt"], "range": ["#555555", "#145c36", "#b3161c"]}, "legend": null}}},
      {"mark": {"type": "text", "fontSize": 10, "baseline": "middle"}, "encoding": {"y": {"datum": 0.12}, "text": {"field": "n"}}},
      {"mark": {"type": "rule", "color": "#000"}, "encoding": {"y": {"field": "lo", "type": "quantitative"}, "y2": {"field": "hi"}}},
      {"mark": {"type": "tick", "color": "#000", "size": 8, "thickness": 1, "opacity": 1}, "encoding": {"y": {"field": "lo", "type": "quantitative"}}},
      {"mark": {"type": "tick", "color": "#000", "size": 8, "thickness": 1, "opacity": 1}, "encoding": {"y": {"field": "hi", "type": "quantitative"}}}
     ]},
    {"width": 45, "height": 1, "data": {"values": [{}]}, "mark": {"type": "point", "opacity": 0, "size": 0}, "encoding": {}},
    {"width": 32, "height": 87,
     "data": {"values": [{"g": "wt", "m": 2.04, "lo": 1.75, "hi": 2.33, "n": "8"}, {"g": "spz", "m": 0.92, "lo": 0.76, "hi": 1.08, "n": "8", "sig": "**"}]},
     "encoding": {"x": {"field": "g", "type": "nominal", "sort": null, "scale": {"paddingInner": 0.2, "paddingOuter": 0.15}, "axis": {"title": "0.7 mM Ca²+", "labels": false, "titlePadding": 3}}},
     "layer": [
      {"mark": {"type": "bar", "strokeWidth": 0.8}, "encoding": {"y": {"field": "m", "type": "quantitative", "scale": {"domain": [0, 2.5], "nice": false}, "axis": {"title": "mEJP frequency (Hz)", "titleFontSize": 12, "values": [0, 0.5, 1, 1.5, 2, 2.5], "format": ".1f"}}, "color": {"field": "g", "type": "nominal", "scale": {"domain": ["wt", "spz", "dnt"], "range": ["#d4d4d4", "#1e8b4f", "#e4222a"]}, "legend": null}}},
      {"transform": [{"filter": "datum.g=='wt'"}], "mark": {"type": "bar", "color": "#fff"}, "encoding": {"y": {"datum": 0}, "y2": {"datum": 0.375}}},
      {"transform": [{"filter": "datum.g!='wt'"}], "mark": {"type": "bar", "color": "#fff"}, "encoding": {"y": {"datum": 0.065}, "y2": {"datum": 0.375}}},
      {"mark": {"type": "bar", "fillOpacity": 0, "strokeWidth": 0.8}, "encoding": {"y": {"field": "m", "type": "quantitative"}, "stroke": {"field": "g", "type": "nominal", "scale": {"domain": ["wt", "spz", "dnt"], "range": ["#555555", "#145c36", "#b3161c"]}, "legend": null}}},
      {"mark": {"type": "text", "fontSize": 10, "baseline": "middle"}, "encoding": {"y": {"datum": 0.2}, "text": {"field": "n"}}},
      {"mark": {"type": "rule", "color": "#000"}, "encoding": {"y": {"field": "lo", "type": "quantitative"}, "y2": {"field": "hi"}}},
      {"mark": {"type": "tick", "color": "#000", "size": 8, "thickness": 1, "opacity": 1}, "encoding": {"y": {"field": "lo", "type": "quantitative"}}},
      {"mark": {"type": "tick", "color": "#000", "size": 8, "thickness": 1, "opacity": 1}, "encoding": {"y": {"field": "hi", "type": "quantitative"}}},
      {"transform": [{"filter": "isValid(datum.sig)"}], "mark": {"type": "text", "fontSize": 13, "baseline": "bottom", "dy": 1}, "encoding": {"y": {"field": "hi", "type": "quantitative"}, "text": {"field": "sig"}}}
     ]},
    {"width": 36, "height": 1, "data": {"values": [{}]}, "mark": {"type": "point", "opacity": 0, "size": 0}, "encoding": {}},
    {"width": 32, "height": 87,
     "title": {"text": "Spontaneous (mean ± s.e.m.)", "anchor": "middle", "frame": "group", "dx": -34, "offset": -13.2, "baseline": "middle", "fontSize": 15},
     "data": {"values": [{"g": "wt", "m": 0.49, "lo": 0.45, "hi": 0.53, "n": "8"}, {"g": "spz", "m": 0.57, "lo": 0.52, "hi": 0.62, "n": "8"}]},
     "encoding": {"x": {"field": "g", "type": "nominal", "sort": null, "scale": {"paddingInner": 0.2, "paddingOuter": 0.15}, "axis": {"title": "1.8 mM Ca²+", "labels": false, "titlePadding": 3}}},
     "layer": [
      {"mark": {"type": "bar", "strokeWidth": 0.8}, "encoding": {"y": {"field": "m", "type": "quantitative", "scale": {"domain": [0, 1], "nice": false}, "axis": {"title": "mEJP amplitude (mV)", "titleFontSize": 12, "values": [0, 0.2, 0.4, 0.6, 0.8, 1], "format": ".1f"}}, "color": {"field": "g", "type": "nominal", "scale": {"domain": ["wt", "spz", "dnt"], "range": ["#d4d4d4", "#1e8b4f", "#e4222a"]}, "legend": null}}},
      {"transform": [{"filter": "datum.g=='wt'"}], "mark": {"type": "bar", "color": "#fff"}, "encoding": {"y": {"datum": 0}, "y2": {"datum": 0.15}}},
      {"transform": [{"filter": "datum.g!='wt'"}], "mark": {"type": "bar", "color": "#fff"}, "encoding": {"y": {"datum": 0.026}, "y2": {"datum": 0.15}}},
      {"mark": {"type": "bar", "fillOpacity": 0, "strokeWidth": 0.8}, "encoding": {"y": {"field": "m", "type": "quantitative"}, "stroke": {"field": "g", "type": "nominal", "scale": {"domain": ["wt", "spz", "dnt"], "range": ["#555555", "#145c36", "#b3161c"]}, "legend": null}}},
      {"mark": {"type": "text", "fontSize": 10, "baseline": "middle"}, "encoding": {"y": {"datum": 0.08}, "text": {"field": "n"}}},
      {"mark": {"type": "rule", "color": "#000"}, "encoding": {"y": {"field": "lo", "type": "quantitative"}, "y2": {"field": "hi"}}},
      {"mark": {"type": "tick", "color": "#000", "size": 8, "thickness": 1, "opacity": 1}, "encoding": {"y": {"field": "lo", "type": "quantitative"}}},
      {"mark": {"type": "tick", "color": "#000", "size": 8, "thickness": 1, "opacity": 1}, "encoding": {"y": {"field": "hi", "type": "quantitative"}}}
     ]},
    {"width": 38, "height": 1, "data": {"values": [{}]}, "mark": {"type": "point", "opacity": 0, "size": 0}, "encoding": {}},
    {"width": 32, "height": 87,
     "data": {"values": [{"g": "wt", "m": 0.85, "lo": 0.79, "hi": 0.91, "n": "8"}, {"g": "spz", "m": 0.61, "lo": 0.56, "hi": 0.67, "n": "8", "sig": "*"}]},
     "encoding": {"x": {"field": "g", "type": "nominal", "sort": null, "scale": {"paddingInner": 0.2, "paddingOuter": 0.15}, "axis": {"title": "0.7 mM Ca²+", "labels": false, "titlePadding": 3}}},
     "layer": [
      {"mark": {"type": "bar", "strokeWidth": 0.8}, "encoding": {"y": {"field": "m", "type": "quantitative", "scale": {"domain": [0, 1], "nice": false}, "axis": {"title": "mEJP amplitude (mV)", "titleFontSize": 12, "values": [0, 0.2, 0.4, 0.6, 0.8, 1], "format": ".1f"}}, "color": {"field": "g", "type": "nominal", "scale": {"domain": ["wt", "spz", "dnt"], "range": ["#d4d4d4", "#1e8b4f", "#e4222a"]}, "legend": null}}},
      {"transform": [{"filter": "datum.g=='wt'"}], "mark": {"type": "bar", "color": "#fff"}, "encoding": {"y": {"datum": 0}, "y2": {"datum": 0.15}}},
      {"transform": [{"filter": "datum.g!='wt'"}], "mark": {"type": "bar", "color": "#fff"}, "encoding": {"y": {"datum": 0.026}, "y2": {"datum": 0.15}}},
      {"mark": {"type": "bar", "fillOpacity": 0, "strokeWidth": 0.8}, "encoding": {"y": {"field": "m", "type": "quantitative"}, "stroke": {"field": "g", "type": "nominal", "scale": {"domain": ["wt", "spz", "dnt"], "range": ["#555555", "#145c36", "#b3161c"]}, "legend": null}}},
      {"mark": {"type": "text", "fontSize": 10, "baseline": "middle"}, "encoding": {"y": {"datum": 0.08}, "text": {"field": "n"}}},
      {"mark": {"type": "rule", "color": "#000"}, "encoding": {"y": {"field": "lo", "type": "quantitative"}, "y2": {"field": "hi"}}},
      {"mark": {"type": "tick", "color": "#000", "size": 8, "thickness": 1, "opacity": 1}, "encoding": {"y": {"field": "lo", "type": "quantitative"}}},
      {"mark": {"type": "tick", "color": "#000", "size": 8, "thickness": 1, "opacity": 1}, "encoding": {"y": {"field": "hi", "type": "quantitative"}}},
      {"transform": [{"filter": "isValid(datum.sig)"}], "mark": {"type": "text", "fontSize": 13, "baseline": "bottom", "dy": 1}, "encoding": {"y": {"field": "hi", "type": "quantitative"}, "text": {"field": "sig"}}}
     ]}
   ]},
   {"width": 1, "height": 8, "data": {"values": [{}]}, "mark": {"type": "point", "opacity": 0, "size": 0}, "encoding": {}},
   {"bounds": "flush", "spacing": 0, "hconcat": [
    {"width": 37, "height": 1, "data": {"values": [{}]}, "mark": {"type": "point", "opacity": 0, "size": 0}, "encoding": {}},
    {"width": 32, "height": 86,
     "title": {"text": "D", "anchor": "start", "frame": "group", "dx": -20, "offset": 2.6, "baseline": "middle", "fontSize": 14, "fontWeight": "bold"},
     "data": {"values": [{"g": "wt", "m": 25.4, "lo": 21.1, "hi": 28.8, "n": "8"}, {"g": "spz", "m": 28.9, "lo": 27.1, "hi": 30.5, "n": "8"}]},
     "encoding": {"x": {"field": "g", "type": "nominal", "sort": null, "scale": {"paddingInner": 0.2, "paddingOuter": 0.15}, "axis": {"title": "1.8 mM Ca²+ 1Hz", "labels": false, "titlePadding": 6, "titleFontSize": 9.5}}},
     "layer": [
      {"mark": {"type": "bar", "strokeWidth": 0.8}, "encoding": {"y": {"field": "m", "type": "quantitative", "scale": {"domain": [0, 40], "nice": false}, "axis": {"title": "EJP amplitude (mV)", "titleFontSize": 10.5, "values": [0, 10, 20, 30, 40]}}, "color": {"field": "g", "type": "nominal", "scale": {"domain": ["wt", "spz", "dnt"], "range": ["#d4d4d4", "#1e8b4f", "#e4222a"]}, "legend": null}}},
      {"transform": [{"filter": "datum.g=='wt'"}], "mark": {"type": "bar", "color": "#fff"}, "encoding": {"y": {"datum": 0}, "y2": {"datum": 5.6}}},
      {"transform": [{"filter": "datum.g!='wt'"}], "mark": {"type": "bar", "color": "#fff"}, "encoding": {"y": {"datum": 0.8}, "y2": {"datum": 5.6}}},
      {"mark": {"type": "bar", "fillOpacity": 0, "strokeWidth": 0.8}, "encoding": {"y": {"field": "m", "type": "quantitative"}, "stroke": {"field": "g", "type": "nominal", "scale": {"domain": ["wt", "spz", "dnt"], "range": ["#555555", "#145c36", "#b3161c"]}, "legend": null}}},
      {"mark": {"type": "text", "fontSize": 10, "baseline": "middle"}, "encoding": {"y": {"datum": 3.1}, "text": {"field": "n"}}},
      {"mark": {"type": "rule", "color": "#000"}, "encoding": {"y": {"field": "lo", "type": "quantitative"}, "y2": {"field": "hi"}}},
      {"mark": {"type": "tick", "color": "#000", "size": 8, "thickness": 1, "opacity": 1}, "encoding": {"y": {"field": "lo", "type": "quantitative"}}},
      {"mark": {"type": "tick", "color": "#000", "size": 8, "thickness": 1, "opacity": 1}, "encoding": {"y": {"field": "hi", "type": "quantitative"}}}
     ]},
    {"width": 46, "height": 1, "data": {"values": [{}]}, "mark": {"type": "point", "opacity": 0, "size": 0}, "encoding": {}},
    {"width": 32, "height": 86,
     "title": {"text": "Evoked (mean ± s.e.m.)", "anchor": "middle", "frame": "group", "dx": 12, "offset": 2.6, "baseline": "middle", "fontSize": 15},
     "data": {"values": [{"g": "wt", "m": 18.9, "lo": 15.8, "hi": 21.9, "n": "8"}, {"g": "spz", "m": 12.1, "lo": 9.0, "hi": 14.8, "n": "8"}]},
     "encoding": {"x": {"field": "g", "type": "nominal", "sort": null, "scale": {"paddingInner": 0.2, "paddingOuter": 0.15}, "axis": {"title": "0.7 mM Ca²+ 1Hz", "labels": false, "titlePadding": 6, "titleFontSize": 9.5, "titleX": 24}}},
     "layer": [
      {"mark": {"type": "bar", "strokeWidth": 0.8}, "encoding": {"y": {"field": "m", "type": "quantitative", "scale": {"domain": [0, 40], "nice": false}, "axis": {"title": "EJP amplitude (mV)", "titleFontSize": 10.5, "values": [0, 10, 20, 30, 40]}}, "color": {"field": "g", "type": "nominal", "scale": {"domain": ["wt", "spz", "dnt"], "range": ["#d4d4d4", "#1e8b4f", "#e4222a"]}, "legend": null}}},
      {"transform": [{"filter": "datum.g=='wt'"}], "mark": {"type": "bar", "color": "#fff"}, "encoding": {"y": {"datum": 0}, "y2": {"datum": 5.6}}},
      {"transform": [{"filter": "datum.g!='wt'"}], "mark": {"type": "bar", "color": "#fff"}, "encoding": {"y": {"datum": 0.8}, "y2": {"datum": 5.6}}},
      {"mark": {"type": "bar", "fillOpacity": 0, "strokeWidth": 0.8}, "encoding": {"y": {"field": "m", "type": "quantitative"}, "stroke": {"field": "g", "type": "nominal", "scale": {"domain": ["wt", "spz", "dnt"], "range": ["#555555", "#145c36", "#b3161c"]}, "legend": null}}},
      {"mark": {"type": "text", "fontSize": 10, "baseline": "middle"}, "encoding": {"y": {"datum": 3.1}, "text": {"field": "n"}}},
      {"mark": {"type": "rule", "color": "#000"}, "encoding": {"y": {"field": "lo", "type": "quantitative"}, "y2": {"field": "hi"}}},
      {"mark": {"type": "tick", "color": "#000", "size": 8, "thickness": 1, "opacity": 1}, "encoding": {"y": {"field": "lo", "type": "quantitative"}}},
      {"mark": {"type": "tick", "color": "#000", "size": 8, "thickness": 1, "opacity": 1}, "encoding": {"y": {"field": "hi", "type": "quantitative"}}}
     ]},
    {"width": 71, "height": 1, "data": {"values": [{}]}, "mark": {"type": "point", "opacity": 0, "size": 0}, "encoding": {}},
    {"width": 34, "height": 86,
     "data": {"values": [{"g": "wt", "m": 23.8, "lo": 19.6, "hi": 27.9, "n": "8"}, {"g": "spz", "m": 19.4, "lo": 15.9, "hi": 22.7, "n": "8"}]},
     "encoding": {"x": {"field": "g", "type": "nominal", "sort": null, "scale": {"paddingInner": 0.2, "paddingOuter": 0.18}, "axis": {"title": "0.7 mM Ca²+", "labels": false, "titlePadding": 6, "titleFontSize": 9.5}}},
     "layer": [
      {"mark": {"type": "bar", "strokeWidth": 0.8}, "encoding": {"y": {"field": "m", "type": "quantitative", "scale": {"domain": [0, 30], "nice": false}, "axis": {"title": "Quantal content", "titleFontSize": 10.5, "values": [0, 10, 20, 30]}}, "color": {"field": "g", "type": "nominal", "scale": {"domain": ["wt", "spz", "dnt"], "range": ["#d4d4d4", "#1e8b4f", "#e4222a"]}, "legend": null}}},
      {"transform": [{"filter": "datum.g=='wt'"}], "mark": {"type": "bar", "color": "#fff"}, "encoding": {"y": {"datum": 0}, "y2": {"datum": 4.2}}},
      {"transform": [{"filter": "datum.g!='wt'"}], "mark": {"type": "bar", "color": "#fff"}, "encoding": {"y": {"datum": 0.6}, "y2": {"datum": 4.2}}},
      {"mark": {"type": "bar", "fillOpacity": 0, "strokeWidth": 0.8}, "encoding": {"y": {"field": "m", "type": "quantitative"}, "stroke": {"field": "g", "type": "nominal", "scale": {"domain": ["wt", "spz", "dnt"], "range": ["#555555", "#145c36", "#b3161c"]}, "legend": null}}},
      {"mark": {"type": "text", "fontSize": 10, "baseline": "middle"}, "encoding": {"y": {"datum": 2.3}, "text": {"field": "n"}}},
      {"mark": {"type": "rule", "color": "#000"}, "encoding": {"y": {"field": "lo", "type": "quantitative"}, "y2": {"field": "hi"}}},
      {"mark": {"type": "tick", "color": "#000", "size": 8, "thickness": 1, "opacity": 1}, "encoding": {"y": {"field": "lo", "type": "quantitative"}}},
      {"mark": {"type": "tick", "color": "#000", "size": 8, "thickness": 1, "opacity": 1}, "encoding": {"y": {"field": "hi", "type": "quantitative"}}}
     ]}
   ]},
   {"width": 1, "height": 21.5, "data": {"values": [{}]}, "mark": {"type": "point", "opacity": 0, "size": 0}, "encoding": {}},
   {"bounds": "flush", "spacing": 0, "hconcat": [
    {"width": 39, "height": 1, "data": {"values": [{}]}, "mark": {"type": "point", "opacity": 0, "size": 0}, "encoding": {}},
    {"width": 38, "height": 85,
     "title": {"text": "G", "anchor": "start", "frame": "group", "dx": -22, "offset": 1.8, "baseline": "middle", "fontSize": 14, "fontWeight": "bold"},
     "data": {"values": [{"g": "wt", "m": 1.8, "lo": 1.55, "hi": 2.03, "n": "13"}, {"g": "dnt", "m": 2.5, "lo": 2.17, "hi": 2.8, "n": "10"}]},
     "encoding": {"x": {"field": "g", "type": "nominal", "sort": null, "scale": {"paddingInner": 0.25, "paddingOuter": 0.45}, "axis": {"title": "1.8 mM Ca²+", "labels": false, "titlePadding": 4}}},
     "layer": [
      {"mark": {"type": "bar", "strokeWidth": 0.8}, "encoding": {"y": {"field": "m", "type": "quantitative", "scale": {"domain": [0, 4], "nice": false}, "axis": {"title": "mEJP frequency (Hz)", "titleFontSize": 10.7, "values": [0, 1, 2, 3, 4]}}, "color": {"field": "g", "type": "nominal", "scale": {"domain": ["wt", "spz", "dnt"], "range": ["#d4d4d4", "#1e8b4f", "#e4222a"]}, "legend": null}}},
      {"transform": [{"filter": "datum.g=='wt'"}], "mark": {"type": "bar", "color": "#fff"}, "encoding": {"y": {"datum": 0}, "y2": {"datum": 0.8}}},
      {"transform": [{"filter": "datum.g!='wt'"}], "mark": {"type": "bar", "color": "#fff"}, "encoding": {"y": {"datum": 0.26}, "y2": {"datum": 0.8}}},
      {"mark": {"type": "bar", "fillOpacity": 0, "strokeWidth": 0.8}, "encoding": {"y": {"field": "m", "type": "quantitative"}, "stroke": {"field": "g", "type": "nominal", "scale": {"domain": ["wt", "spz", "dnt"], "range": ["#555555", "#145c36", "#b3161c"]}, "legend": null}}},
      {"mark": {"type": "text", "fontSize": 10, "baseline": "middle"}, "encoding": {"y": {"datum": 0.46}, "text": {"field": "n"}}},
      {"mark": {"type": "rule", "color": "#000"}, "encoding": {"y": {"field": "lo", "type": "quantitative"}, "y2": {"field": "hi"}}},
      {"mark": {"type": "tick", "color": "#000", "size": 8, "thickness": 1, "opacity": 1}, "encoding": {"y": {"field": "lo", "type": "quantitative"}}},
      {"mark": {"type": "tick", "color": "#000", "size": 8, "thickness": 1, "opacity": 1}, "encoding": {"y": {"field": "hi", "type": "quantitative"}}}
     ]},
    {"width": 35, "height": 1, "data": {"values": [{}]}, "mark": {"type": "point", "opacity": 0, "size": 0}, "encoding": {}},
    {"width": 32, "height": 85,
     "data": {"values": [{"g": "wt", "m": 2.5, "lo": 1.97, "hi": 3.06, "n": "9"}, {"g": "dnt", "m": 3.3, "lo": 2.85, "hi": 3.8, "n": "10"}]},
     "encoding": {"x": {"field": "g", "type": "nominal", "sort": null, "scale": {"paddingInner": 0.12, "paddingOuter": 0.15}, "axis": {"title": "0.7 mM Ca²+", "labels": false, "titlePadding": 4}}},
     "layer": [
      {"mark": {"type": "bar", "strokeWidth": 0.8}, "encoding": {"y": {"field": "m", "type": "quantitative", "scale": {"domain": [0, 5], "nice": false}, "axis": {"title": "mEJP frequency (Hz)", "titleFontSize": 10.7, "values": [0, 1, 2, 3, 4, 5]}}, "color": {"field": "g", "type": "nominal", "scale": {"domain": ["wt", "spz", "dnt"], "range": ["#d4d4d4", "#1e8b4f", "#e4222a"]}, "legend": null}}},
      {"transform": [{"filter": "datum.g=='wt'"}], "mark": {"type": "bar", "color": "#fff"}, "encoding": {"y": {"datum": 0}, "y2": {"datum": 1.0}}},
      {"transform": [{"filter": "datum.g!='wt'"}], "mark": {"type": "bar", "color": "#fff"}, "encoding": {"y": {"datum": 0.33}, "y2": {"datum": 1.0}}},
      {"mark": {"type": "bar", "fillOpacity": 0, "strokeWidth": 0.8}, "encoding": {"y": {"field": "m", "type": "quantitative"}, "stroke": {"field": "g", "type": "nominal", "scale": {"domain": ["wt", "spz", "dnt"], "range": ["#555555", "#145c36", "#b3161c"]}, "legend": null}}},
      {"mark": {"type": "text", "fontSize": 10, "baseline": "middle"}, "encoding": {"y": {"datum": 0.58}, "text": {"field": "n"}}},
      {"mark": {"type": "rule", "color": "#000"}, "encoding": {"y": {"field": "lo", "type": "quantitative"}, "y2": {"field": "hi"}}},
      {"mark": {"type": "tick", "color": "#000", "size": 8, "thickness": 1, "opacity": 1}, "encoding": {"y": {"field": "lo", "type": "quantitative"}}},
      {"mark": {"type": "tick", "color": "#000", "size": 8, "thickness": 1, "opacity": 1}, "encoding": {"y": {"field": "hi", "type": "quantitative"}}}
     ]},
    {"width": 39, "height": 1, "data": {"values": [{}]}, "mark": {"type": "point", "opacity": 0, "size": 0}, "encoding": {}},
    {"width": 32, "height": 85,
     "title": {"text": "Spontaneous (mean ± s.e.m.)", "anchor": "middle", "frame": "group", "dx": -37, "offset": -0.5, "baseline": "middle", "fontSize": 15},
     "data": {"values": [{"g": "wt", "m": 0.78, "lo": 0.74, "hi": 0.82, "n": "13"}, {"g": "dnt", "m": 0.85, "lo": 0.79, "hi": 0.9, "n": "10"}]},
     "encoding": {"x": {"field": "g", "type": "nominal", "sort": null, "scale": {"paddingInner": 0.1, "paddingOuter": 0.12}, "axis": {"title": "1.8 mM Ca²+", "labels": false, "titlePadding": 4}}},
     "layer": [
      {"mark": {"type": "bar", "strokeWidth": 0.8}, "encoding": {"y": {"field": "m", "type": "quantitative", "scale": {"domain": [0, 1], "nice": false}, "axis": {"title": "mEJP amplitude (mV)", "titleFontSize": 10.7, "values": [0, 0.2, 0.4, 0.6, 0.8, 1], "format": ".1f"}}, "color": {"field": "g", "type": "nominal", "scale": {"domain": ["wt", "spz", "dnt"], "range": ["#d4d4d4", "#1e8b4f", "#e4222a"]}, "legend": null}}},
      {"transform": [{"filter": "datum.g=='wt'"}], "mark": {"type": "bar", "color": "#fff"}, "encoding": {"y": {"datum": 0}, "y2": {"datum": 0.2}}},
      {"transform": [{"filter": "datum.g!='wt'"}], "mark": {"type": "bar", "color": "#fff"}, "encoding": {"y": {"datum": 0.065}, "y2": {"datum": 0.2}}},
      {"mark": {"type": "bar", "fillOpacity": 0, "strokeWidth": 0.8}, "encoding": {"y": {"field": "m", "type": "quantitative"}, "stroke": {"field": "g", "type": "nominal", "scale": {"domain": ["wt", "spz", "dnt"], "range": ["#555555", "#145c36", "#b3161c"]}, "legend": null}}},
      {"mark": {"type": "text", "fontSize": 10, "baseline": "middle"}, "encoding": {"y": {"datum": 0.115}, "text": {"field": "n"}}},
      {"mark": {"type": "rule", "color": "#000"}, "encoding": {"y": {"field": "lo", "type": "quantitative"}, "y2": {"field": "hi"}}},
      {"mark": {"type": "tick", "color": "#000", "size": 8, "thickness": 1, "opacity": 1}, "encoding": {"y": {"field": "lo", "type": "quantitative"}}},
      {"mark": {"type": "tick", "color": "#000", "size": 8, "thickness": 1, "opacity": 1}, "encoding": {"y": {"field": "hi", "type": "quantitative"}}}
     ]},
    {"width": 40, "height": 1, "data": {"values": [{}]}, "mark": {"type": "point", "opacity": 0, "size": 0}, "encoding": {}},
    {"width": 30, "height": 85,
     "data": {"values": [{"g": "wt", "m": 1.01, "lo": 0.91, "hi": 1.1, "n": "9"}, {"g": "dnt", "m": 1.12, "lo": 1.08, "hi": 1.15, "n": "10"}]},
     "encoding": {"x": {"field": "g", "type": "nominal", "sort": null, "scale": {"paddingInner": 0.15, "paddingOuter": 0.1}, "axis": {"title": "0.7 mM Ca²+", "labels": false, "titlePadding": 4}}},
     "layer": [
      {"mark": {"type": "bar", "strokeWidth": 0.8}, "encoding": {"y": {"field": "m", "type": "quantitative", "scale": {"domain": [0, 1.5], "nice": false}, "axis": {"title": "mEJP amplitude (mV)", "titleFontSize": 10.7, "values": [0, 0.5, 1, 1.5], "format": ".1f"}}, "color": {"field": "g", "type": "nominal", "scale": {"domain": ["wt", "spz", "dnt"], "range": ["#d4d4d4", "#1e8b4f", "#e4222a"]}, "legend": null}}},
      {"transform": [{"filter": "datum.g=='wt'"}], "mark": {"type": "bar", "color": "#fff"}, "encoding": {"y": {"datum": 0}, "y2": {"datum": 0.3}}},
      {"transform": [{"filter": "datum.g!='wt'"}], "mark": {"type": "bar", "color": "#fff"}, "encoding": {"y": {"datum": 0.1}, "y2": {"datum": 0.3}}},
      {"mark": {"type": "bar", "fillOpacity": 0, "strokeWidth": 0.8}, "encoding": {"y": {"field": "m", "type": "quantitative"}, "stroke": {"field": "g", "type": "nominal", "scale": {"domain": ["wt", "spz", "dnt"], "range": ["#555555", "#145c36", "#b3161c"]}, "legend": null}}},
      {"mark": {"type": "text", "fontSize": 10, "baseline": "middle"}, "encoding": {"y": {"datum": 0.17}, "text": {"field": "n"}}},
      {"mark": {"type": "rule", "color": "#000"}, "encoding": {"y": {"field": "lo", "type": "quantitative"}, "y2": {"field": "hi"}}},
      {"mark": {"type": "tick", "color": "#000", "size": 8, "thickness": 1, "opacity": 1}, "encoding": {"y": {"field": "lo", "type": "quantitative"}}},
      {"mark": {"type": "tick", "color": "#000", "size": 8, "thickness": 1, "opacity": 1}, "encoding": {"y": {"field": "hi", "type": "quantitative"}}}
     ]}
   ]},
   {"width": 1, "height": 7.5, "data": {"values": [{}]}, "mark": {"type": "point", "opacity": 0, "size": 0}, "encoding": {}},
   {"bounds": "flush", "spacing": 0, "hconcat": [
    {"width": 47, "height": 1, "data": {"values": [{}]}, "mark": {"type": "point", "opacity": 0, "size": 0}, "encoding": {}},
    {"width": 30, "height": 81,
     "title": {"text": "H", "anchor": "start", "frame": "group", "dx": -30, "offset": 2.6, "baseline": "middle", "fontSize": 14, "fontWeight": "bold"},
     "data": {"values": [{"g": "wt", "m": 44, "lo": 41.3, "hi": 46.2, "n": "9"}, {"g": "dnt", "m": 41.8, "lo": 39.6, "hi": 43.8, "n": "10"}]},
     "encoding": {"x": {"field": "g", "type": "nominal", "sort": null, "scale": {"paddingInner": 0.2, "paddingOuter": 0.15}, "axis": {"title": ["1.8 mM Ca²+", "1Hz"], "labels": false, "titlePadding": 6, "titleAlign": "left", "titleX": -10, "titleLineHeight": 11}}},
     "layer": [
      {"mark": {"type": "bar", "strokeWidth": 0.8}, "encoding": {"y": {"field": "m", "type": "quantitative", "scale": {"domain": [0, 50], "nice": false}, "axis": {"title": "EJP amplitude (mV)", "titleFontSize": 10, "values": [0, 10, 20, 30, 40, 50]}}, "color": {"field": "g", "type": "nominal", "scale": {"domain": ["wt", "spz", "dnt"], "range": ["#d4d4d4", "#1e8b4f", "#e4222a"]}, "legend": null}}},
      {"transform": [{"filter": "datum.g=='wt'"}], "mark": {"type": "bar", "color": "#fff"}, "encoding": {"y": {"datum": 0}, "y2": {"datum": 7.2}}},
      {"transform": [{"filter": "datum.g!='wt'"}], "mark": {"type": "bar", "color": "#fff"}, "encoding": {"y": {"datum": 2.2}, "y2": {"datum": 7.2}}},
      {"mark": {"type": "bar", "fillOpacity": 0, "strokeWidth": 0.8}, "encoding": {"y": {"field": "m", "type": "quantitative"}, "stroke": {"field": "g", "type": "nominal", "scale": {"domain": ["wt", "spz", "dnt"], "range": ["#555555", "#145c36", "#b3161c"]}, "legend": null}}},
      {"mark": {"type": "text", "fontSize": 10, "baseline": "middle"}, "encoding": {"y": {"datum": 4.5}, "text": {"field": "n"}}},
      {"mark": {"type": "rule", "color": "#000"}, "encoding": {"y": {"field": "lo", "type": "quantitative"}, "y2": {"field": "hi"}}},
      {"mark": {"type": "tick", "color": "#000", "size": 8, "thickness": 1, "opacity": 1}, "encoding": {"y": {"field": "lo", "type": "quantitative"}}},
      {"mark": {"type": "tick", "color": "#000", "size": 8, "thickness": 1, "opacity": 1}, "encoding": {"y": {"field": "hi", "type": "quantitative"}}}
     ]},
    {"width": 36, "height": 1, "data": {"values": [{}]}, "mark": {"type": "point", "opacity": 0, "size": 0}, "encoding": {}},
    {"width": 30, "height": 81,
     "title": {"text": "Evoked (mean ± s.e.m.)", "anchor": "middle", "frame": "group", "dx": 15, "offset": 2.6, "baseline": "middle", "fontSize": 15},
     "data": {"values": [{"g": "wt", "m": 30.5, "lo": 28, "hi": 33, "n": "9"}, {"g": "dnt", "m": 35.8, "lo": 34, "hi": 37.8, "n": "10"}]},
     "encoding": {"x": {"field": "g", "type": "nominal", "sort": null, "scale": {"paddingInner": 0.2, "paddingOuter": 0.15}, "axis": {"title": ["0.7 mM Ca²+", "1Hz"], "labels": false, "titlePadding": 6, "titleAlign": "left", "titleX": -7, "titleLineHeight": 11}}},
     "layer": [
      {"mark": {"type": "bar", "strokeWidth": 0.8}, "encoding": {"y": {"field": "m", "type": "quantitative", "scale": {"domain": [0, 40], "nice": false}, "axis": {"title": "EJP amplitude (mV)", "titleFontSize": 10, "values": [0, 10, 20, 30, 40]}}, "color": {"field": "g", "type": "nominal", "scale": {"domain": ["wt", "spz", "dnt"], "range": ["#d4d4d4", "#1e8b4f", "#e4222a"]}, "legend": null}}},
      {"transform": [{"filter": "datum.g=='wt'"}], "mark": {"type": "bar", "color": "#fff"}, "encoding": {"y": {"datum": 0}, "y2": {"datum": 5.8}}},
      {"transform": [{"filter": "datum.g!='wt'"}], "mark": {"type": "bar", "color": "#fff"}, "encoding": {"y": {"datum": 1.7}, "y2": {"datum": 5.8}}},
      {"mark": {"type": "bar", "fillOpacity": 0, "strokeWidth": 0.8}, "encoding": {"y": {"field": "m", "type": "quantitative"}, "stroke": {"field": "g", "type": "nominal", "scale": {"domain": ["wt", "spz", "dnt"], "range": ["#555555", "#145c36", "#b3161c"]}, "legend": null}}},
      {"mark": {"type": "text", "fontSize": 10, "baseline": "middle"}, "encoding": {"y": {"datum": 3.6}, "text": {"field": "n"}}},
      {"mark": {"type": "rule", "color": "#000"}, "encoding": {"y": {"field": "lo", "type": "quantitative"}, "y2": {"field": "hi"}}},
      {"mark": {"type": "tick", "color": "#000", "size": 8, "thickness": 1, "opacity": 1}, "encoding": {"y": {"field": "lo", "type": "quantitative"}}},
      {"mark": {"type": "tick", "color": "#000", "size": 8, "thickness": 1, "opacity": 1}, "encoding": {"y": {"field": "hi", "type": "quantitative"}}}
     ]},
    {"width": 20, "height": 1, "data": {"values": [{}]}, "mark": {"type": "point", "opacity": 0, "size": 0}, "encoding": {}},
    {"width": 20, "height": 97,
     "data": {"values": [{"g": "wt", "s": "wt"}, {"g": "spz", "s": "spz²"}, {"g": "dnt", "s": "DNT1⁵⁵DNT2ᵉ⁰³⁴⁴"}]},
     "encoding": {"y": {"field": "g", "type": "nominal", "sort": null, "scale": {"type": "point", "padding": 0.98}, "axis": null}},
     "layer": [
      {"mark": {"type": "square", "size": 169, "opacity": 1, "strokeWidth": 1}, "encoding": {"color": {"field": "g", "type": "nominal", "scale": {"domain": ["wt", "spz", "dnt"], "range": ["#d4d4d4", "#1e8b4f", "#e4222a"]}, "legend": null}, "stroke": {"field": "g", "type": "nominal", "scale": {"domain": ["wt", "spz", "dnt"], "range": ["#333333", "#333333", "#333333"]}, "legend": null}}},
      {"mark": {"type": "text", "align": "left", "dx": 13.5, "fontSize": 12, "fontStyle": "italic", "baseline": "middle"}, "encoding": {"text": {"field": "s"}}}
     ]}
   ]}
  ]},
  {"width": 0.01, "height": 632, "view": {"stroke": "#9a9a9a", "strokeWidth": 2}, "data": {"values": [{}]}, "mark": {"type": "point", "opacity": 0, "size": 0}, "encoding": {}}
 ]},
 {"width": 667, "height": 0.01, "view": {"stroke": "#9a9a9a", "strokeWidth": 2}, "data": {"values": [{}]}, "mark": {"type": "point", "opacity": 0, "size": 0}, "encoding": {}}
]
}
